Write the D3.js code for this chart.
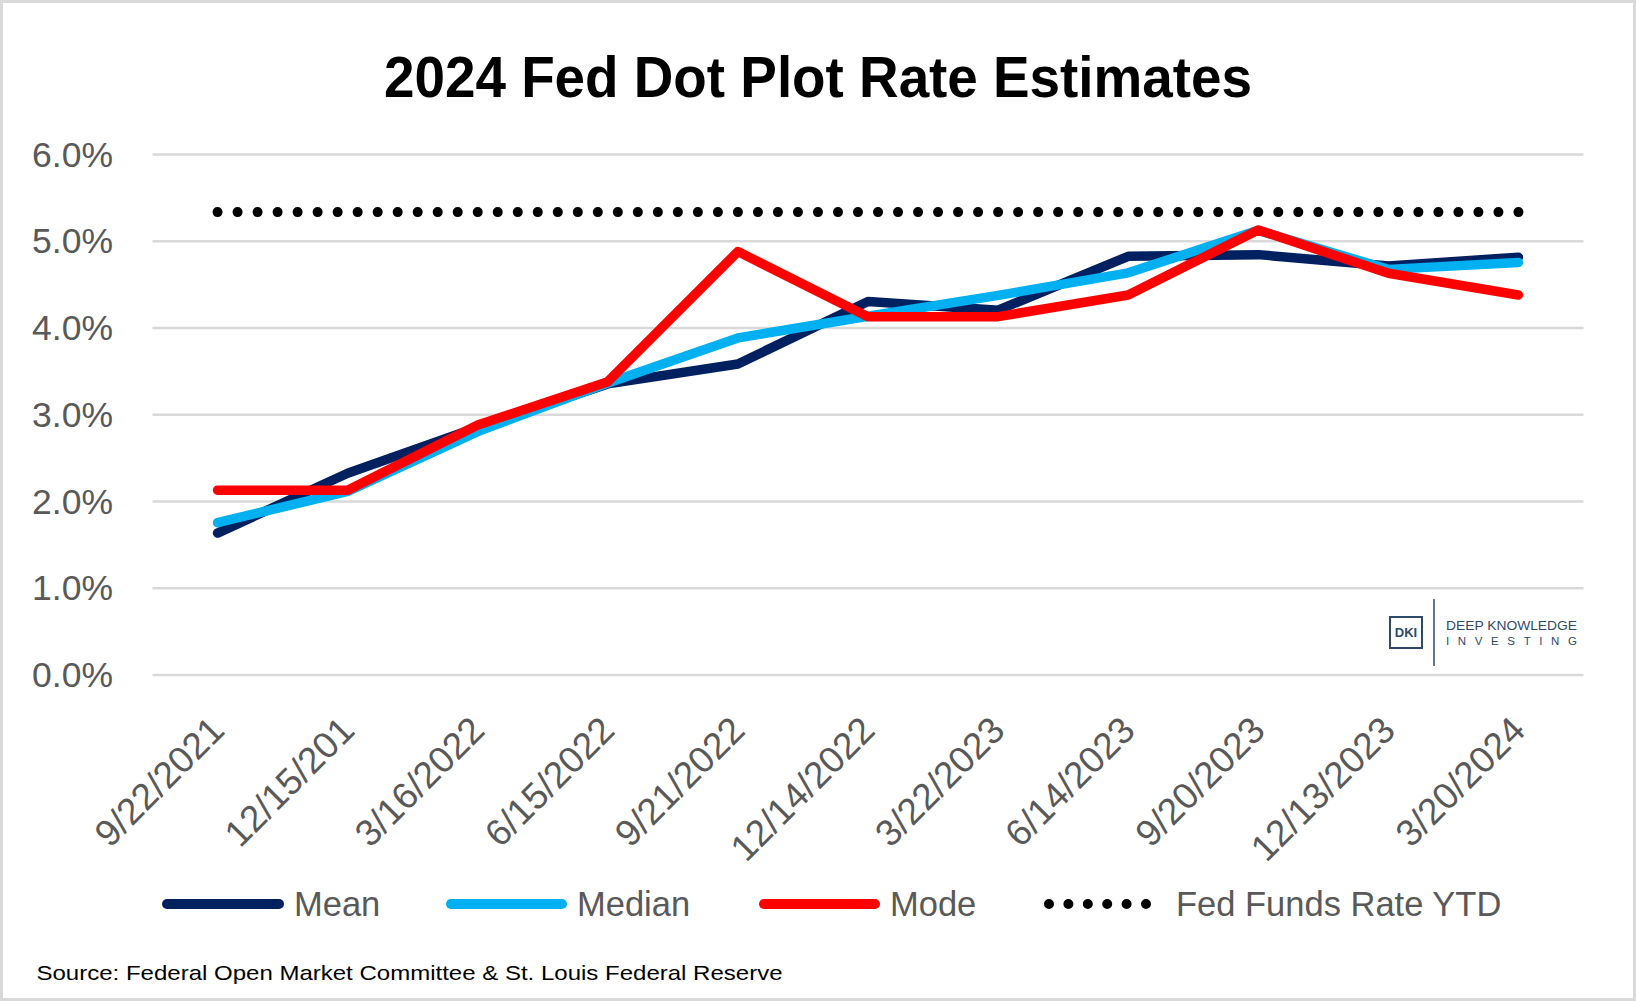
<!DOCTYPE html>
<html><head><meta charset="utf-8">
<script src="https://cdn.jsdelivr.net/npm/d3@7"></script>
<style>html,body{margin:0;padding:0;background:#fff;}svg{display:block;}</style>
</head><body>
<svg id="chart" width="1636" height="1001"></svg>
<script>
const categories = ["9/22/2021","12/15/201","3/16/2022","6/15/2022","9/21/2022","12/14/2022","3/22/2023","6/14/2023","9/20/2023","12/13/2023","3/20/2024"];
const meanValues   = [1.63, 2.32, 2.85, 3.35, 3.58, 4.30, 4.20, 4.82, 4.84, 4.71, 4.81];
const medianValues = [1.75, 2.11, 2.80, 3.36, 3.88, 4.13, 4.37, 4.63, 5.12, 4.67, 4.75];
const modeValues   = [2.125, 2.125, 2.875, 3.375, 4.875, 4.125, 4.125, 4.375, 5.125, 4.625, 4.375];
const fedFundsValues = [5.33, 5.33, 5.33, 5.33, 5.33, 5.33, 5.33, 5.33, 5.33, 5.33, 5.33];
const yTicks = [0, 1, 2, 3, 4, 5, 6];
const seriesNames = ["Mean", "Median", "Mode", "Fed Funds Rate YTD"];
const titleText = "2024 Fed Dot Plot Rate Estimates";
const sourceText = "Source: Federal Open Market Committee & St. Louis Federal Reserve";

const svg = d3.select("#chart");
const W = 1636, H = 1001;
const FONT = "'Liberation Sans', Arial, sans-serif";
const GRAY = "#595959";

svg.append("rect").attr("x",1.5).attr("y",1.5).attr("width",W-3).attr("height",H-3)
  .attr("fill","#fff").attr("stroke","#d9d9d9").attr("stroke-width",3);

const x = d3.scaleBand().domain(categories).range([152.5, 1583.5]).padding(0);
const cx = d => x(d) + x.bandwidth()/2;
const y = d3.scaleLinear().domain([0, 6]).range([674.5, 154]);

// gridlines + y labels
const yAxis = d3.axisLeft(y).tickValues(yTicks).tickSize(-(1583.5-152.5)).tickFormat(d => d3.format(".1f")(d) + "%");
const gy = svg.append("g").attr("transform","translate(152.5,0)").call(yAxis);
gy.select(".domain").remove();
gy.selectAll(".tick line").attr("stroke","#d9d9d9").attr("stroke-width",2.5);
gy.selectAll(".tick text").attr("x",-39.5).attr("dy",null).attr("dominant-baseline","central")
  .attr("fill",GRAY).style("font-family",FONT).style("font-size","35.5px").attr("text-anchor","end");

// x labels
const xAxis = d3.axisBottom(x).tickSize(0);
const gx = svg.append("g").attr("transform","translate(0,674.5)").call(xAxis);
gx.select(".domain").remove();
gx.selectAll(".tick text").attr("y",null).attr("dy",null)
  .attr("transform","translate(0,49) rotate(-45)")
  .attr("text-anchor","end").attr("dominant-baseline","central")
  .attr("fill",GRAY).style("font-family",FONT).style("font-size","37px");

// Fed funds dotted line
const line = d3.line().x((d,i) => cx(categories[i])).y(d => y(d));
const fedPath = svg.append("path").datum(fedFundsValues).attr("d", line)
  .attr("fill","none").attr("stroke","#000").attr("stroke-width",10).attr("stroke-linecap","round");
const fl = fedPath.node().getTotalLength();
const gap = fl / Math.round(fl / 19.9);
fedPath.attr("stroke-dasharray", `0 ${gap}`);

const series = [
  {name: seriesNames[0], values: meanValues, color: "#002060"},
  {name: seriesNames[1], values: medianValues, color: "#00B0F0"},
  {name: seriesNames[2], values: modeValues, color: "#FF0000"}
];
series.forEach(s => {
  svg.append("path").datum(s.values).attr("d", line)
    .attr("fill","none").attr("stroke", s.color).attr("stroke-width",9.5)
    .attr("stroke-linecap","round").attr("stroke-linejoin","round");
});

// title
svg.append("text").attr("x",818).attr("y",97).attr("text-anchor","middle")
  .attr("fill","#000").style("font-family",FONT).style("font-weight","bold").style("font-size","57px")
  .attr("textLength",868).attr("lengthAdjust","spacingAndGlyphs").text(titleText);

// legend
const legY = 904;
const legItems = [
  {x1:167, x2:279, tx:294, color:"#002060", dotted:false},
  {x1:451, x2:562, tx:577, color:"#00B0F0", dotted:false},
  {x1:764, x2:875, tx:890, color:"#FF0000", dotted:false},
  {x1:1049, x2:1146, tx:1176, color:"#000", dotted:true}
];
legItems.forEach((it, i) => {
  const l = svg.append("line").attr("x1",it.x1).attr("x2",it.x2).attr("y1",legY).attr("y2",legY)
    .attr("stroke",it.color).attr("stroke-width",10).attr("stroke-linecap","round");
  if (it.dotted) l.attr("stroke-dasharray", `0 ${(it.x2-it.x1)/5}`);
  svg.append("text").attr("x",it.tx).attr("y",legY).attr("dominant-baseline","central")
    .attr("fill",GRAY).style("font-family",FONT).style("font-size","34.5px").text(seriesNames[i]);
});

// source
svg.append("text").attr("x",36.5).attr("y",980).attr("fill","#000")
  .style("font-family",FONT).style("font-size","21px")
  .attr("textLength",746).attr("lengthAdjust","spacingAndGlyphs").text(sourceText);

// logo
const LC = "#2E4A6B";
const logo = svg.append("g");
logo.append("rect").attr("x",1390).attr("y",617).attr("width",32).attr("height",31)
  .attr("fill","none").attr("stroke",LC).attr("stroke-width",2);
logo.append("text").attr("x",1406).attr("y",637).attr("text-anchor","middle").attr("fill",LC)
  .style("font-family",FONT).style("font-weight","bold").style("font-size","13px").text("DKI");
logo.append("line").attr("x1",1434).attr("x2",1434).attr("y1",599).attr("y2",666)
  .attr("stroke",LC).attr("stroke-width",1.5);
logo.append("text").attr("x",1446).attr("y",630).attr("fill",LC)
  .style("font-family",FONT).style("font-size","12.5px")
  .attr("textLength",131).attr("lengthAdjust","spacingAndGlyphs").text("DEEP KNOWLEDGE");
logo.append("text").attr("x",1446).attr("y",644.5).attr("fill",LC)
  .style("font-family",FONT).style("font-size","11.5px")
  .attr("textLength",131).attr("lengthAdjust","spacing").text("INVESTING");
</script>
</body></html>
